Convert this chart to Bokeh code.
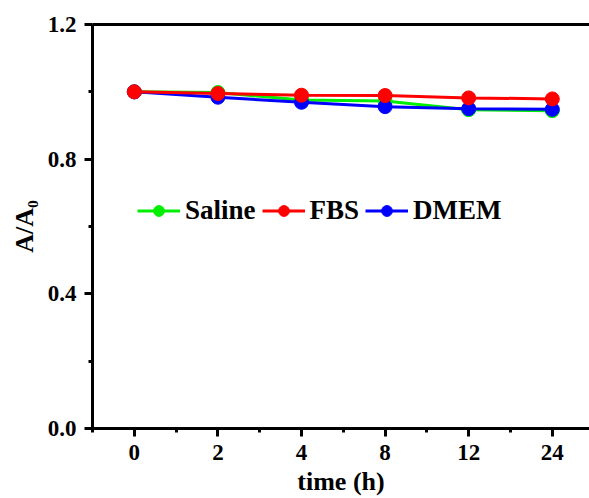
from bokeh.plotting import figure
from bokeh.models import (Range1d, FixedTicker, LinearAxis, Legend, LegendItem,
                          CustomJSTickFormatter)
from bokeh.embed import file_html
from bokeh.resources import INLINE

# ---- data ----
time_labels = ["0", "2", "4", "8", "12", "24"]
saline = [1.000, 0.998, 0.976, 0.973, 0.947, 0.944]
fbs = [1.000, 0.995, 0.990, 0.989, 0.982, 0.979]
dmem = [1.000, 0.984, 0.969, 0.956, 0.950, 0.948]
y_ticks = [0.0, 0.4, 0.8, 1.2]
y_minor = [0.2, 0.6, 1.0]

xs = list(range(len(time_labels)))
FONT = "Liberation Serif"

p = figure(width=589, height=498, output_backend="svg", toolbar_location=None,
           x_range=Range1d(-0.5, 5.445), y_range=Range1d(0, 1.2),
           min_border_left=92, min_border_right=0, min_border_top=24,
           min_border_bottom=70, outline_line_color=None)
p.xgrid.visible = False
p.ygrid.visible = False
p.background_fill_color = "white"
p.border_fill_color = "white"

# x axis
xa = p.xaxis[0]
xa.ticker = FixedTicker(ticks=xs, minor_ticks=[i - 0.5 for i in range(len(xs) + 1)])
xa.major_label_overrides = {i: t for i, t in enumerate(time_labels)}
xa.axis_label = "time (h)"
# y axis
ya = p.yaxis[0]
ya.ticker = FixedTicker(ticks=y_ticks, minor_ticks=y_minor)
ya.formatter = CustomJSTickFormatter(code="return tick.toFixed(1);")
ya.axis_label = "A/A\u2080"

for ax in (xa, ya):
    ax.axis_line_width = 3
    ax.major_tick_line_width = 3
    ax.minor_tick_line_width = 3
    ax.major_tick_out = 8
    ax.major_tick_in = 0
    ax.minor_tick_out = 4
    ax.minor_tick_in = 0
    ax.major_label_text_font = FONT
    ax.major_label_text_font_style = "bold"
    ax.major_label_text_font_size = "23px"
    ax.major_label_text_color = "black"
    ax.axis_label_text_font = FONT
    ax.axis_label_text_font_style = "bold"
    ax.axis_label_text_font_size = "26px"
    ax.axis_label_text_color = "black"
xa.major_label_standoff = 8
xa.axis_label_standoff = 4
ya.major_label_standoff = 8
ya.axis_label_standoff = 6

top = LinearAxis(ticker=FixedTicker(ticks=[]), axis_line_width=3,
                 major_tick_out=0, minor_tick_out=0, major_tick_in=0, minor_tick_in=0,
                 major_label_text_font_size="0px")
p.add_layout(top, "above")

# series: drawn green, blue, red (red on top)
series = {}
for name, vals, col in [("Saline", saline, "#00ee00"), ("DMEM", dmem, "#0000ff"),
                        ("FBS", fbs, "#ff0000")]:
    ln = p.line(xs, vals, line_color=col, line_width=3)
    sc = p.scatter(xs, vals, size=14, fill_color=col, line_color=col, line_width=1)
    series[name] = [ln, sc]

items = [LegendItem(label=n, renderers=series[n]) for n in ["Saline", "FBS", "DMEM"]]
legend = Legend(items=items, orientation="horizontal", location=(45, 202),
                padding=0, margin=0, spacing=6, label_standoff=5,
                glyph_width=43, glyph_height=27, label_height=27,
                label_text_font=FONT, label_text_font_style="bold",
                label_text_font_size="27px", label_text_color="black",
                background_fill_alpha=0, border_line_color=None)
p.add_layout(legend, "center")

open("out.html", "w").write(file_html(p, INLINE))
